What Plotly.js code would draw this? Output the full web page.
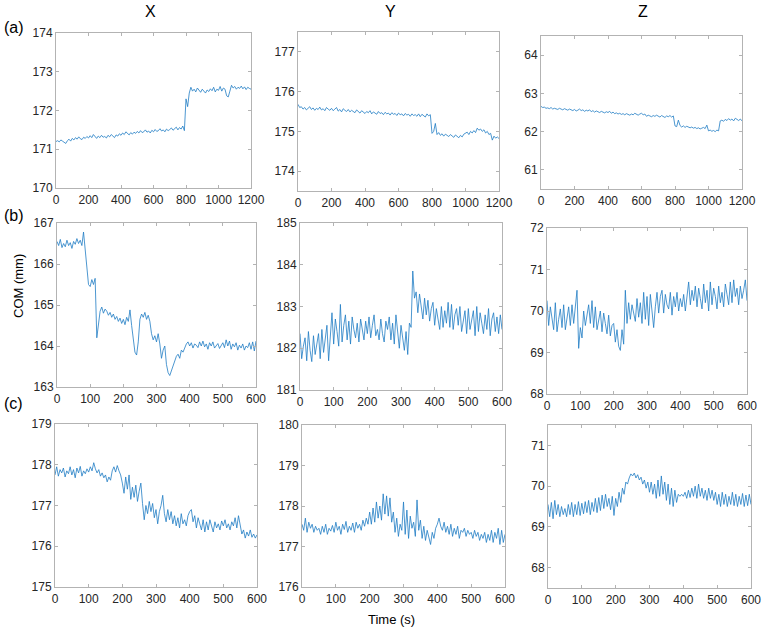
<!DOCTYPE html>
<html>
<head>
<meta charset="utf-8">
<script src="https://cdn.plot.ly/plotly-3.0.1.min.js"></script>
<style>html,body{margin:0;padding:0;background:#fff;}#chart{width:764px;height:628px;}</style>
</head>
<body>
<div id="chart"></div>
<script>
// ---- Data ----
// Row (a): sampled every 10 s, 0..1200 s
const aX = [
171.20,171.22,171.19,171.24,171.21,171.17,171.15,171.22,171.26,171.21,
171.28,171.24,171.30,171.26,171.32,171.27,171.25,171.31,171.28,171.33,
171.29,171.35,171.30,171.38,171.32,171.28,171.34,171.30,171.36,171.31,
171.33,171.29,171.36,171.32,171.38,171.33,171.30,171.37,171.34,171.40,
171.36,171.42,171.38,171.45,171.40,171.37,171.43,171.39,171.44,171.41,
171.46,171.42,171.48,171.43,171.45,171.50,171.44,171.47,171.42,171.49,
171.45,171.51,171.46,171.48,171.53,171.47,171.50,171.45,171.52,171.48,
171.51,171.55,171.49,171.53,171.57,171.50,171.56,171.52,171.60,171.48,
172.30,172.10,172.45,172.60,172.50,172.55,172.48,172.58,172.52,172.47,
172.55,172.50,172.45,172.53,172.49,172.56,172.51,172.60,172.48,172.55,
172.52,172.62,172.50,172.58,172.55,172.38,172.35,172.50,172.65,172.58,
172.62,172.55,172.60,172.57,172.63,172.56,172.61,172.54,172.60,172.57,
172.55];
const aY = [
175.68,175.60,175.62,175.56,175.60,175.54,175.58,175.62,175.55,175.59,
175.53,175.58,175.55,175.61,175.54,175.57,175.52,175.60,175.56,175.53,
175.58,175.52,175.56,175.60,175.51,175.55,175.49,175.57,175.53,175.50,
175.55,175.49,175.53,175.51,175.47,175.54,175.50,175.46,175.52,175.48,
175.45,175.50,175.47,175.52,175.44,175.49,175.46,175.43,175.50,175.45,
175.47,175.42,175.48,175.44,175.46,175.41,175.47,175.43,175.45,175.40,
175.46,175.42,175.44,175.39,175.45,175.41,175.43,175.38,175.44,175.40,
175.42,175.38,175.44,175.37,175.43,175.40,175.36,175.44,175.39,175.42,
174.95,175.00,175.20,174.92,174.97,174.90,174.94,174.88,174.93,174.90,
174.87,174.92,174.89,174.85,174.91,174.87,174.84,174.90,174.86,174.93,
174.95,174.98,174.92,175.00,174.96,175.02,174.97,175.08,175.03,175.06,
175.00,175.04,174.96,175.00,174.92,174.95,174.78,174.88,174.83,174.86,
174.82];
const aZ = [
62.66,62.63,62.64,62.61,62.62,62.60,62.63,62.59,62.61,62.60,
62.58,62.61,62.59,62.57,62.60,62.58,62.56,62.59,62.57,62.55,
62.58,62.54,62.56,62.59,62.55,62.57,62.53,62.56,62.54,62.57,
62.52,62.55,62.51,62.54,62.52,62.50,62.53,62.51,62.49,62.52,
62.50,62.53,62.48,62.51,62.47,62.49,62.46,62.48,62.45,62.47,
62.44,62.47,62.45,62.43,62.46,62.44,62.48,62.45,62.43,62.46,
62.48,62.44,62.46,62.40,62.43,62.41,62.39,62.42,62.40,62.43,
62.41,62.38,62.42,62.40,62.37,62.41,62.39,62.42,62.38,62.41,
62.15,62.13,62.30,62.16,62.12,62.15,62.11,62.14,62.12,62.10,
62.12,62.09,62.11,62.08,62.10,62.07,62.09,62.11,62.08,62.17,
62.02,62.04,62.01,62.03,62.00,62.04,62.02,62.28,62.30,62.27,
62.32,62.29,62.34,62.30,62.33,62.28,62.35,62.31,62.29,62.33,
62.28];
// Rows (b) and (c): sampled every 5 s, 0..600 s
const bX = [
166.55,166.45,166.60,166.40,166.50,166.42,166.58,166.45,166.52,166.38,
166.55,166.48,166.62,166.50,166.58,166.45,166.78,166.35,165.90,165.50,
165.45,165.62,165.50,165.65,164.20,164.60,164.85,164.95,164.80,164.90,
164.85,164.75,164.82,164.70,164.78,164.65,164.72,164.60,164.68,164.55,
164.65,164.52,164.70,164.60,164.88,164.50,164.20,163.85,163.78,164.10,
164.65,164.78,164.70,164.82,164.65,164.75,164.60,164.30,164.15,164.25,
164.10,164.30,164.05,163.70,163.90,164.00,163.55,163.35,163.28,163.40,
163.55,163.65,163.75,163.80,163.70,163.90,163.85,163.95,164.05,164.10,
164.00,164.08,163.95,164.05,164.02,163.96,164.10,164.00,164.12,163.98,
164.05,163.92,164.08,164.00,164.10,163.95,164.02,164.06,163.94,164.00,
164.08,163.96,164.15,164.00,164.12,163.92,164.05,163.98,164.08,163.90,
164.02,163.95,164.05,163.90,164.00,163.96,164.08,163.92,164.10,163.88,
164.12];
const bY = [
182.35,181.75,182.05,182.25,181.70,182.40,181.95,181.68,182.30,181.85,
182.10,182.35,181.75,182.45,181.90,182.20,182.55,181.70,182.20,182.85,
182.10,182.70,182.40,182.05,183.05,182.15,182.55,182.80,182.20,182.65,
182.10,182.75,182.45,182.25,182.60,182.15,182.70,182.40,182.20,182.65,
182.35,182.75,182.25,182.55,182.80,182.30,182.45,182.20,182.70,182.35,
182.15,182.65,182.45,182.75,182.20,182.60,182.10,182.80,182.45,182.00,
182.55,182.20,181.95,182.40,181.85,182.60,182.50,183.85,183.20,183.35,
182.85,183.30,183.00,182.70,183.20,182.80,183.15,182.65,182.95,183.10,
182.55,182.95,182.70,182.45,183.00,182.50,182.90,182.60,183.10,182.50,
183.05,182.45,182.80,182.95,182.55,183.00,182.40,182.70,182.90,182.35,
182.95,182.45,182.65,182.90,182.30,183.00,182.40,182.85,182.60,182.35,
182.80,182.45,182.95,182.30,182.70,182.85,182.40,182.75,182.35,182.80,
182.45];
const bZ = [
70.25,69.65,70.10,69.85,69.55,70.20,69.50,69.80,70.05,69.60,
70.15,69.55,69.90,70.10,69.65,70.15,69.70,70.20,70.50,69.10,
69.60,69.35,70.00,69.65,69.90,70.15,69.70,70.25,69.60,70.10,
69.55,69.80,70.00,69.50,69.95,69.70,69.45,69.90,69.40,69.65,
69.70,69.25,69.55,69.15,69.05,69.55,69.20,70.50,69.70,70.20,
69.80,70.15,69.95,69.75,70.30,69.85,70.20,69.70,70.45,69.80,
70.35,69.65,70.40,69.90,69.60,70.10,70.45,69.95,70.35,70.50,
69.95,70.40,70.15,70.05,70.45,69.90,70.35,70.10,70.45,70.00,
70.30,70.10,70.40,70.00,70.35,70.70,70.15,70.50,70.25,70.60,
70.10,70.55,70.30,70.05,70.65,70.20,70.50,70.00,70.70,70.15,
70.55,70.35,70.05,70.60,70.20,70.45,70.10,70.65,70.40,70.15,
70.70,70.20,70.75,70.35,70.55,70.15,70.60,70.30,70.50,70.75,
70.25];
const cX = [
177.75,177.95,177.72,177.88,177.80,177.92,177.70,177.85,177.78,177.95,
177.75,177.88,177.68,177.92,177.80,177.96,177.72,177.85,177.78,177.90,
177.82,177.95,177.85,178.05,177.90,177.80,177.88,177.72,177.80,177.68,
177.75,177.58,177.70,177.62,177.85,177.95,177.82,177.98,177.85,177.75,
177.55,177.30,177.70,177.40,177.75,177.15,177.45,177.20,177.50,177.10,
177.35,177.55,177.05,176.65,177.00,176.80,177.10,176.85,177.05,176.70,
176.90,176.55,176.85,177.00,177.25,176.80,176.60,176.90,176.65,176.85,
176.55,176.75,176.50,176.70,176.45,176.80,176.55,176.65,176.50,176.75,
176.85,176.90,176.60,176.75,176.45,176.70,176.55,176.40,176.65,176.35,
176.60,176.40,176.65,176.50,176.35,176.60,176.45,176.55,176.40,176.62,
176.50,176.65,176.45,176.55,176.40,176.60,176.50,176.70,176.45,176.75,
176.50,176.30,176.40,176.20,176.35,176.25,176.40,176.22,176.30,176.20,
176.28];
const cY = [
177.55,177.40,177.70,177.35,177.60,177.45,177.55,177.35,177.50,177.40,
177.45,177.30,177.50,177.35,177.55,177.30,177.45,177.38,177.52,177.35,
177.60,177.40,177.50,177.30,177.55,177.42,177.62,177.35,177.50,177.40,
177.58,177.35,177.60,177.45,177.55,177.40,177.65,177.50,177.70,177.55,
177.85,177.55,177.95,177.60,178.10,177.70,178.00,177.65,178.30,177.80,
178.25,177.75,178.20,177.60,177.85,177.35,177.70,177.25,177.55,177.40,
178.10,177.30,177.90,177.20,177.75,177.45,177.60,177.25,178.15,177.40,
177.65,177.20,177.50,177.15,177.40,177.25,177.05,177.35,177.20,177.45,
177.55,177.70,177.50,177.40,177.60,177.35,177.50,177.30,177.55,177.25,
177.45,177.30,177.50,177.20,177.40,177.35,177.45,177.25,177.40,177.30,
177.35,177.20,177.40,177.25,177.35,177.15,177.30,177.20,177.35,177.10,
177.30,177.15,177.40,177.10,177.35,177.20,177.45,177.05,177.40,177.10,
177.30];
const cZ = [
69.55,69.25,69.60,69.20,69.65,69.30,69.55,69.25,69.50,69.30,
69.45,69.25,69.55,69.30,69.60,69.25,69.55,69.30,69.62,69.28,
69.58,69.32,69.62,69.35,69.65,69.30,69.60,69.38,69.70,69.35,
69.72,69.40,69.78,69.45,69.80,69.50,69.70,69.42,69.75,69.28,
69.70,69.50,69.85,69.60,69.95,69.80,70.10,70.05,70.20,70.30,
70.25,70.32,70.20,70.28,70.15,70.22,70.05,70.15,69.95,70.10,
69.85,70.10,69.80,70.05,69.70,70.15,69.75,70.25,69.80,70.10,
69.65,70.05,69.55,69.95,69.50,69.90,69.60,69.80,69.75,69.80,
69.75,69.85,69.70,69.90,69.72,69.95,69.75,70.00,69.70,70.05,
69.75,69.95,69.70,69.90,69.65,69.95,69.70,69.90,69.65,69.85,
69.55,69.80,69.50,69.85,69.55,69.80,69.50,69.75,69.55,69.85,
69.52,69.80,69.50,69.75,69.55,69.82,69.50,69.78,69.52,69.80,
69.55];

const columnTitles = ['X', 'Y', 'Z'];
const rowLabels = ['(a)', '(b)', '(c)'];
const xLabel = 'Time (s)';
const yLabel = 'COM (mm)';

// ---- Layout geometry (pixels) ----
const W = 764, H = 628;
const panels = [
  {y: aX, dx: 10, xr: [0, 1200], xt: 200, yr: [170, 174],   box: [56, 251, 33, 188]},
  {y: aY, dx: 10, xr: [0, 1200], xt: 200, yr: [173.5, 177.5], box: [298, 499, 32, 191]},
  {y: aZ, dx: 10, xr: [0, 1200], xt: 200, yr: [60.5, 64.5], box: [541, 742, 36, 189]},
  {y: bX, dx: 5, xr: [0, 600], xt: 100, yr: [163, 167], box: [57, 256, 223, 387]},
  {y: bY, dx: 5, xr: [0, 600], xt: 100, yr: [181, 185], box: [300, 502, 223, 390]},
  {y: bZ, dx: 5, xr: [0, 600], xt: 100, yr: [68, 72],   box: [547, 747, 228, 394]},
  {y: cX, dx: 5, xr: [0, 600], xt: 100, yr: [175, 179], box: [55, 257, 424, 587]},
  {y: cY, dx: 5, xr: [0, 600], xt: 100, yr: [176, 180], box: [302, 505, 425, 587]},
  {y: cZ, dx: 5, xr: [0, 600], xt: 100, yr: [67.5, 71.5], box: [548, 751, 425, 588]}
];

const axisColor = '#b3b3b3';
const tickFont = {family: 'Liberation Sans, Arial, sans-serif', size: 12, color: '#262626'};
const traces = [];
const layout = {
  width: W, height: H,
  margin: {l: 0, r: 0, t: 0, b: 0},
  paper_bgcolor: '#ffffff', plot_bgcolor: '#ffffff',
  showlegend: false,
  annotations: []
};

panels.forEach((p, i) => {
  const n = i + 1;
  const xa = 'xaxis' + (n === 1 ? '' : n), ya = 'yaxis' + (n === 1 ? '' : n);
  const xid = 'x' + (n === 1 ? '' : n), yid = 'y' + (n === 1 ? '' : n);
  traces.push({
    type: 'scatter', mode: 'lines', y: p.y, x0: 0, dx: p.dx,
    xaxis: xid, yaxis: yid,
    line: {color: '#1f7cc4', width: 0.8},
    hoverinfo: 'skip'
  });
  const [l, r, t, b] = p.box;
  const common = {
    showline: true, mirror: 'ticks', linecolor: axisColor, linewidth: 1,
    ticks: 'inside', ticklen: 3, tickcolor: axisColor, tickwidth: 1,
    showgrid: false, zeroline: false, tickfont: tickFont, fixedrange: true
  };
  layout[xa] = Object.assign({}, common, {
    domain: [l / W, r / W], range: p.xr, dtick: p.xt, tick0: 0,
    anchor: yid, ticklabelstandoff: 1
  });
  layout[ya] = Object.assign({}, common, {
    domain: [1 - b / H, 1 - t / H], range: p.yr, dtick: 1, tick0: 0,
    anchor: xid
  });
});

function ann(text, px, py, size, angle) {
  layout.annotations.push({
    text: text, xref: 'paper', yref: 'paper', x: px / W, y: 1 - py / H,
    xanchor: 'center', yanchor: 'middle', showarrow: false, textangle: angle || 0,
    font: {family: 'Liberation Sans, Arial, sans-serif', size: size, color: '#000000'}
  });
}
ann(columnTitles[0], 150, 12, 16);
ann(columnTitles[1], 390, 12, 16);
ann(columnTitles[2], 643, 12, 16);
ann(rowLabels[0], 14, 28, 16);
ann(rowLabels[1], 14, 215, 16);
ann(rowLabels[2], 14, 403, 16);
ann(yLabel, 18, 286, 13, -90);
ann(xLabel, 391, 619, 13);

Plotly.newPlot('chart', traces, layout, {staticPlot: true, displayModeBar: false});
</script>
</body>
</html>
